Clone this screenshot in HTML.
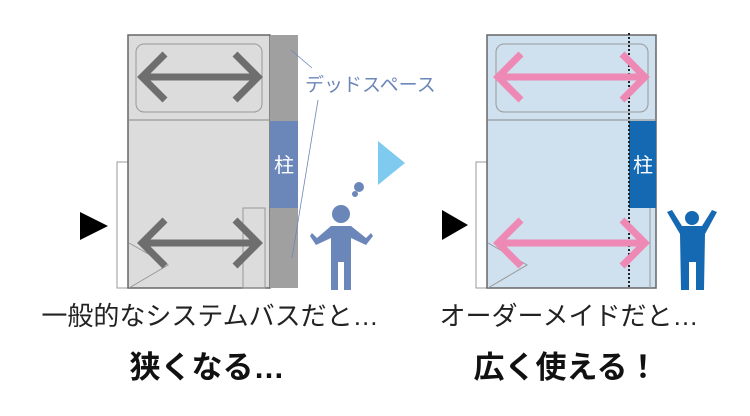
<!DOCTYPE html>
<html><head><meta charset="utf-8"><style>
html,body{margin:0;padding:0;background:#fff;}
svg{display:block;}
text{font-family:"Liberation Sans","Noto Sans CJK JP",sans-serif;}
</style></head><body>
<svg width="750" height="416" viewBox="0 0 750 416" xmlns="http://www.w3.org/2000/svg">
<!-- LEFT PANEL -->
<rect x="117" y="162" width="11" height="126" fill="#fff" stroke="#999" stroke-width="1"/>
<rect x="128" y="35" width="142" height="253" fill="#dcdcdc" stroke="#666" stroke-width="1.5"/>
<line x1="128" y1="120" x2="270" y2="120" stroke="#888" stroke-width="1"/>
<rect x="136" y="44" width="126" height="68" rx="8" fill="none" stroke="#999" stroke-width="1"/>
<rect x="270" y="35" width="28" height="86" fill="#a0a0a0"/>
<rect x="270" y="121" width="28" height="87" fill="#6b86b8"/>
<rect x="270" y="208" width="28" height="80" fill="#a0a0a0"/>
<text x="284" y="172" font-size="20" fill="#fff" text-anchor="middle">柱</text>
<rect x="243" y="208" width="22" height="80" fill="none" stroke="#999" stroke-width="1"/>
<polyline points="129,243 168,265 129,288" fill="none" stroke="#999" stroke-width="1"/>
<g stroke="#6e6e6e" stroke-width="7" fill="none" stroke-linecap="butt">
<line x1="142" y1="77" x2="258" y2="77"/>
<polyline points="165,54 142,77 165,100"/><polyline points="235,54 258,77 235,100"/>
<line x1="142" y1="243" x2="258" y2="243"/>
<polyline points="165,220 142,243 165,266"/><polyline points="235,220 258,243 235,266"/>
</g>
<line x1="291" y1="50" x2="312" y2="68" stroke="#6b86b8" stroke-width="0.8"/>
<line x1="318" y1="100" x2="292" y2="258" stroke="#6b86b8" stroke-width="0.8"/>
<text x="305" y="91" font-size="19" fill="#6b86b8">デッドスペース</text>
<polygon points="80,212 108,226 80,240" fill="#000"/>
<polygon points="378,141 405,163 378,185" fill="#7ecbef"/>
<!-- left person -->
<g fill="#6b86b8">
<circle cx="341" cy="214" r="9"/>
<path d="M331,226 L351,226 L366,238 L371,233 L373,236 L366,245 L351,238 L351,290 L344,290 L344,262 L338,262 L338,290 L331,290 L331,238 L316,245 L310,236 L312,233 L317,238 Z"/>
<circle cx="359" cy="187" r="5"/>
<circle cx="355" cy="194" r="3"/>
</g>
<!-- RIGHT PANEL -->
<rect x="476" y="162" width="11" height="126" fill="#fff" stroke="#999" stroke-width="1"/>
<rect x="487" y="35" width="169" height="253" fill="#cfe0ee" stroke="#666" stroke-width="1.5"/>
<line x1="487" y1="120" x2="656" y2="120" stroke="#888" stroke-width="1"/>
<rect x="496" y="44" width="152" height="68" rx="8" fill="none" stroke="#999" stroke-width="1"/>
<rect x="629" y="121" width="27" height="87" fill="#1569b3"/>
<text x="643" y="172" font-size="20" fill="#fff" text-anchor="middle">柱</text>
<line x1="650" y1="208" x2="650" y2="288" stroke="#999" stroke-width="1"/>
<polyline points="488,243 527,265 488,288" fill="none" stroke="#999" stroke-width="1"/>
<line x1="629" y1="33" x2="629" y2="288" stroke="#222" stroke-width="2" stroke-dasharray="2,2"/>
<g stroke="#ee88b4" stroke-width="7" fill="none">
<line x1="498" y1="77" x2="645" y2="77"/>
<polyline points="521,54 498,77 521,100"/><polyline points="622,54 645,77 622,100"/>
<line x1="498" y1="243" x2="645" y2="243"/>
<polyline points="521,220 498,243 521,266"/><polyline points="622,220 645,243 622,266"/>
</g>
<polygon points="442,210 468,225 442,240" fill="#000"/>
<!-- right person -->
<g fill="#1569b3">
<circle cx="692" cy="218" r="7"/>
<path d="M667,212 L672,210 L682,226 L702,226 L712,210 L717,212 L705,234 L704,290 L696,290 L696,262 L689,262 L689,290 L681,290 L680,234 Z"/>
</g>
<!-- TEXT -->
<text x="210" y="325" font-size="26" fill="#222" text-anchor="middle">一般的なシステムバスだと…</text>
<text x="207" y="378" font-size="31" font-weight="bold" fill="#111" text-anchor="middle">狭くなる…</text>
<text x="569" y="325" font-size="26" fill="#222" text-anchor="middle">オーダーメイドだと…</text>
<text x="566" y="378" font-size="31" font-weight="bold" fill="#111" text-anchor="middle">広く使える！</text>
</svg>
</body></html>
